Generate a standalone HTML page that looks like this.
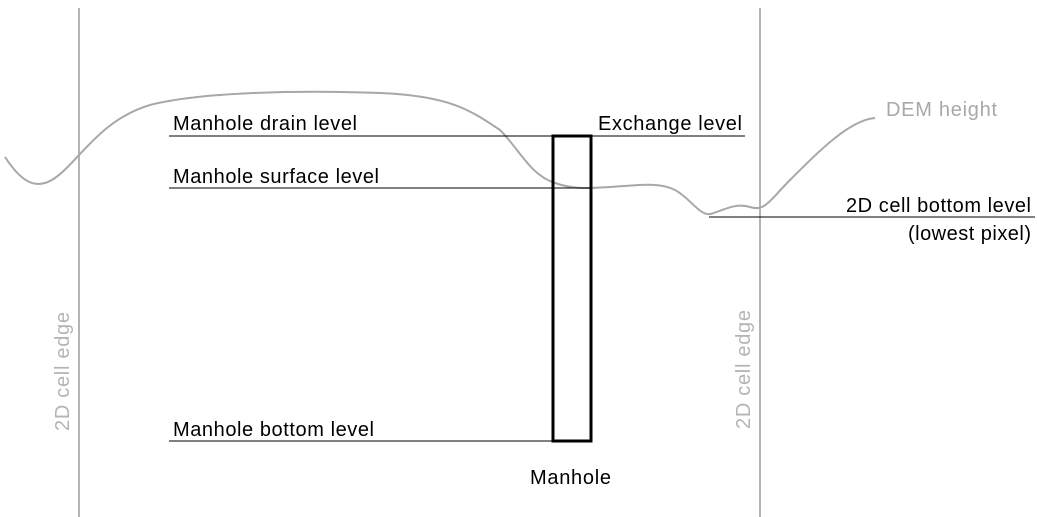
<!DOCTYPE html>
<html><head><style>body{margin:0;background:#fff}svg{display:block}</style></head>
<body>
<svg width="1037" height="517" viewBox="0 0 1037 517" font-family="Liberation Sans, Arial, sans-serif" font-size="20">
<rect width="1037" height="517" fill="#fff"/>
<line x1="79" y1="8" x2="79" y2="517" stroke="#b4b4b4" stroke-width="2"/>
<line x1="760" y1="8" x2="760" y2="517" stroke="#b4b4b4" stroke-width="2"/>
<path d="M5,157 C20,180 35,192 55,178 C80,160 100,120 150,105 C200,92 300,90 380,93 C450,96 470,110 500,130 C520,150 530,175 555,183 C575,190 590,188 610,187 C640,185 660,182 675,190 C690,198 700,216 710,214 C720,212 735,202 750,207 C765,212 770,200 790,180 C820,150 850,120 875,118" fill="none" stroke="#a8a8a8" stroke-width="2"/>
<line x1="169" y1="136" x2="745" y2="136" stroke="#000" stroke-width="1"/>
<line x1="169" y1="188" x2="592" y2="188" stroke="#000" stroke-width="1"/>
<line x1="169" y1="441" x2="553" y2="441" stroke="#000" stroke-width="1"/>
<line x1="709" y1="217" x2="1035" y2="217" stroke="#000" stroke-width="1"/>
<rect x="553" y="136" width="38" height="305" fill="none" stroke="#000" stroke-width="3"/>
<text x="173" y="130" textLength="184" lengthAdjust="spacing">Manhole drain level</text>
<text x="598" y="130" textLength="144" lengthAdjust="spacing">Exchange level</text>
<text x="173" y="183" textLength="206" lengthAdjust="spacing">Manhole surface level</text>
<text x="173" y="436" textLength="201" lengthAdjust="spacing">Manhole bottom level</text>
<text x="886" y="116" fill="#a8a8a8" textLength="111" lengthAdjust="spacing">DEM height</text>
<text x="846" y="212" textLength="185" lengthAdjust="spacing">2D cell bottom level</text>
<text x="908" y="240" textLength="123" lengthAdjust="spacing">(lowest pixel)</text>
<text x="530" y="484" textLength="81" lengthAdjust="spacing">Manhole</text>
<text transform="translate(69,431) rotate(-90)" fill="#b4b4b4" textLength="119" lengthAdjust="spacing">2D cell edge</text>
<text transform="translate(750,429) rotate(-90)" fill="#b4b4b4" textLength="119" lengthAdjust="spacing">2D cell edge</text>
</svg>
</body></html>
